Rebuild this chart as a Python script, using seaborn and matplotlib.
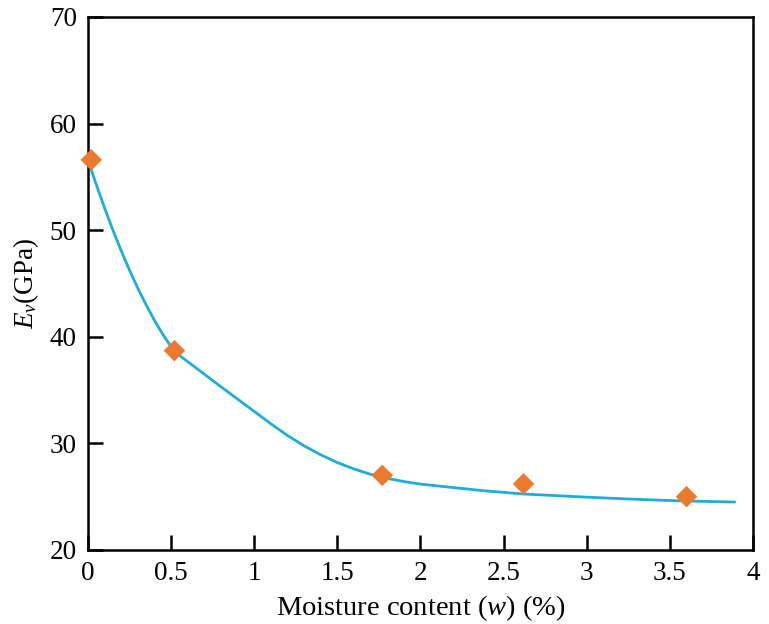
import matplotlib
matplotlib.use("Agg")
import matplotlib.pyplot as plt
import seaborn as sns
import pandas as pd

# Measured elastic modulus vs. moisture content
moisture = [0.02, 0.52, 1.77, 2.62, 3.60]
modulus = [56.6, 38.7, 27.0, 26.2, 25.0]

# Fitted trend curve
fit_x = [0.0, 0.05, 0.10, 0.15, 0.20, 0.25, 0.30, 0.35, 0.40, 0.45, 0.52,
         0.62, 0.75, 0.87, 1.0, 1.1, 1.2, 1.3, 1.4, 1.5, 1.6, 1.7, 1.8,
         1.9, 2.0, 2.2, 2.38, 2.62, 2.98, 3.3, 3.58, 3.89]
fit_y = [56.6, 54.27, 52.07, 50.0, 48.06, 46.24, 44.55, 42.98, 41.54, 40.23,
         38.6, 37.43, 35.9, 34.5, 33.0, 31.84, 30.74, 29.77, 28.93, 28.2,
         27.6, 27.1, 26.72, 26.42, 26.18, 25.85, 25.56, 25.25, 24.97, 24.75,
         24.6, 24.5]

x_ticks = [0, 0.5, 1, 1.5, 2, 2.5, 3, 3.5, 4]
x_tick_labels = ["0", "0.5", "1", "1.5", "2", "2.5", "3", "3.5", "4"]
y_ticks = [20, 30, 40, 50, 60, 70]

sns.set_theme(style="white")
plt.rcParams["font.family"] = ["Liberation Serif", "DejaVu Serif"]
plt.rcParams["mathtext.fontset"] = "custom"
plt.rcParams["mathtext.rm"] = "Liberation Serif"
plt.rcParams["mathtext.it"] = "Liberation Serif:italic"

fig = plt.figure(figsize=(7.69, 6.24), dpi=100)
ax = fig.add_axes([0.1144, 0.1186, 0.8648, 0.8542])

fit_df = pd.DataFrame({"w": fit_x, "E": fit_y})
pts_df = pd.DataFrame({"w": moisture, "E": modulus})

sns.lineplot(data=fit_df, x="w", y="E", ax=ax, color="#1EADDB", lw=2.0,
             sort=False, zorder=2)
sns.scatterplot(data=pts_df, x="w", y="E", ax=ax, marker="D", s=120,
                color="#EC7A2E", edgecolor="none", zorder=3, clip_on=False)

ax.set_xlim(0, 4)
ax.set_ylim(20, 70)
ax.set_xticks(x_ticks)
ax.set_xticklabels(x_tick_labels)
ax.set_yticks(y_ticks)

for side, sp in ax.spines.items():
    sp.set_visible(True)
    sp.set_color("black")
    sp.set_linewidth(1.8)

ax.tick_params(axis="both", which="major", direction="in", length=11,
               width=1.8, labelsize=19.5, colors="black", pad=8,
               top=False, right=False, bottom=True, left=True)

ax.set_xlabel("Moisture content ($w$) (%)", fontsize=20.5, color="black",
              labelpad=5)
ax.set_ylabel("$E_v$(GPa)", fontsize=19.5, color="black", labelpad=6)

fig.savefig("out.png", dpi=100)
